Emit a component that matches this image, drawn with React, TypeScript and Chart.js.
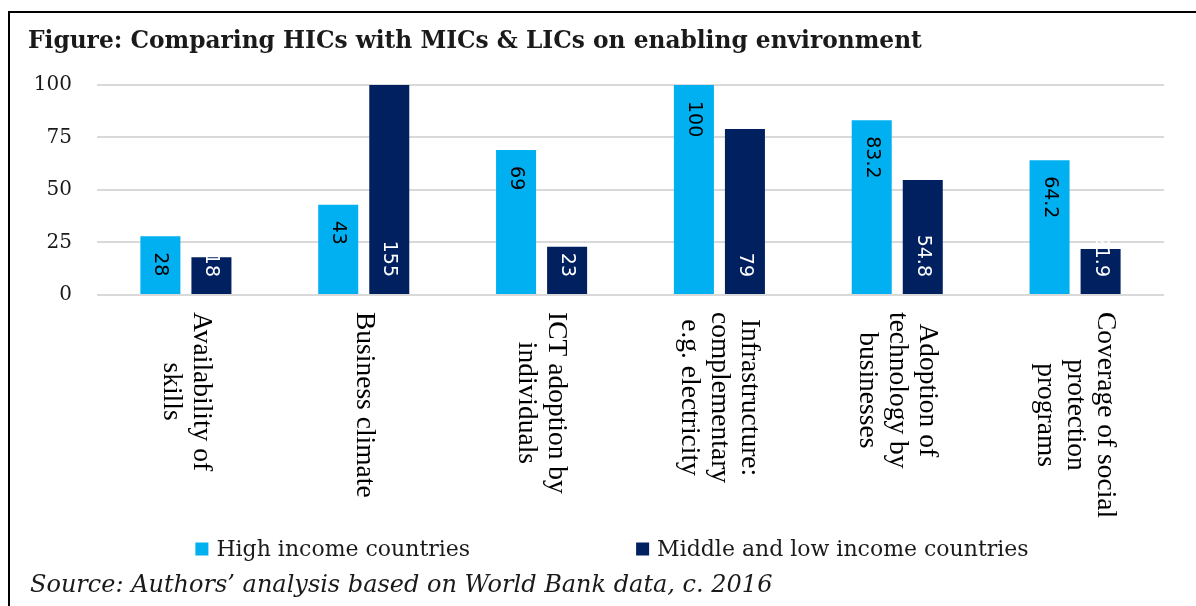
import React, { useEffect, useRef } from 'react';
import { Chart, registerables } from 'chart.js';

Chart.register(...registerables);

const categories: string[][] = [
  ['Availability of', 'skills'],
  ['Business climate'],
  ['ICT adoption by', 'individuals'],
  ['Infrastructure:', 'complementary', 'e.g. electricity'],
  ['Adoption of', 'technology by', 'businesses'],
  ['Coverage of social', 'protection', 'programs'],
];
const highIncome = [28, 43, 69, 100, 83.2, 64.2];
const middleLowIncome = [18, 155, 23, 79, 54.8, 21.9];
const yMin = 0;
const yMax = 100;
const yStep = 25;
const seriesNames = ['High income countries', 'Middle and low income countries'];
const seriesColors = ['#00B0F0', '#002060'];
const labelColors = ['#000000', '#FFFFFF'];
const titleText = 'Figure: Comparing HICs with MICs & LICs on enabling environment';
const sourceText = 'Source: Authors\u2019 analysis based on World Bank data, c. 2016';

const W = 1196;
const H = 606;

const framePlugin = {
  id: 'frame',
  beforeDraw(chart: any) {
    const ctx = chart.ctx as CanvasRenderingContext2D;
    ctx.save();
    ctx.strokeStyle = '#000000';
    ctx.lineWidth = 2;
    ctx.beginPath();
    ctx.moveTo(9, chart.height);
    ctx.lineTo(9, 12);
    ctx.lineTo(chart.width, 12);
    ctx.stroke();
    ctx.restore();
  },
};

const dataLabelPlugin = {
  id: 'rotatedDataLabels',
  afterDatasetsDraw(chart: any) {
    const ctx = chart.ctx as CanvasRenderingContext2D;
    const area = chart.chartArea;
    chart.data.datasets.forEach((ds: any, di: number) => {
      const meta = chart.getDatasetMeta(di);
      meta.data.forEach((bar: any, i: number) => {
        const { x, y, base } = bar.getProps(['x', 'y', 'base'], true);
        const text = String(ds.data[i]);
        ctx.save();
        ctx.font = '19px "DejaVu Sans"';
        ctx.fillStyle = labelColors[di];
        ctx.textBaseline = 'middle';
        if (di === 0) {
          const top = Math.max(y, area.top);
          ctx.translate(x, top + 16);
          ctx.rotate(Math.PI / 2);
          ctx.textAlign = 'left';
        } else {
          ctx.translate(x, base - 17);
          ctx.rotate(Math.PI / 2);
          ctx.textAlign = 'right';
        }
        ctx.fillText(text, 0, 0);
        ctx.restore();
      });
    });
  },
};

const xLabelPlugin = {
  id: 'rotatedCategoryLabels',
  afterDraw(chart: any) {
    const ctx = chart.ctx as CanvasRenderingContext2D;
    const xs = chart.scales.x;
    const area = chart.chartArea;
    const lineH = 30;
    ctx.save();
    ctx.font = '27.5px "Liberation Serif"';
    ctx.fillStyle = '#000000';
    ctx.textBaseline = 'middle';
    ctx.textAlign = 'center';
    categories.forEach((lines, i) => {
      const x = xs.getPixelForValue(i);
      const maxW = Math.max(...lines.map((l) => ctx.measureText(l).width));
      ctx.save();
      ctx.translate(x, area.bottom + 17);
      ctx.rotate(Math.PI / 2);
      lines.forEach((line, k) => {
        ctx.fillText(line, maxW / 2, (k - (lines.length - 1) / 2) * lineH);
      });
      ctx.restore();
    });
    ctx.restore();
  },
};

const legendSourcePlugin = {
  id: 'legendAndSource',
  afterDraw(chart: any) {
    const ctx = chart.ctx as CanvasRenderingContext2D;
    ctx.save();
    ctx.font = '22px "DejaVu Serif"';
    ctx.textBaseline = 'middle';
    ctx.textAlign = 'left';
    const box = 13;
    const gap = 8;
    const spacing = 166;
    const items = chart.data.datasets.map((ds: any) => ({
      text: ds.label as string,
      color: ds.backgroundColor as string,
      w: ctx.measureText(ds.label).width,
    }));
    const total =
      items.reduce((s: number, it: any) => s + box + gap + it.w, 0) + spacing * (items.length - 1);
    let x = 612 - total / 2;
    const y = 549;
    items.forEach((it: any) => {
      ctx.fillStyle = it.color;
      ctx.fillRect(x, y - box / 2, box, box);
      ctx.fillStyle = '#1a1a1a';
      ctx.fillText(it.text, x + box + gap, y + 1);
      x += box + gap + it.w + spacing;
    });
    ctx.font = 'italic 24px "DejaVu Serif"';
    ctx.fillStyle = '#1a1a1a';
    ctx.fillText(sourceText, 30, 586);
    ctx.restore();
  },
};

export default function App() {
  const canvasRef = useRef<HTMLCanvasElement | null>(null);

  useEffect(() => {
    if (!canvasRef.current) return;
    const chart = new Chart(canvasRef.current, {
      type: 'bar',
      data: {
        labels: categories.map((c) => c.join(' ')),
        datasets: [
          {
            label: seriesNames[0],
            data: highIncome,
            backgroundColor: seriesColors[0],
            borderWidth: 0,
            categoryPercentage: 0.574,
            barPercentage: 0.784,
          },
          {
            label: seriesNames[1],
            data: middleLowIncome,
            backgroundColor: seriesColors[1],
            borderWidth: 0,
            categoryPercentage: 0.574,
            barPercentage: 0.784,
          },
        ],
      },
      options: {
        responsive: false,
        animation: false,
        layout: { padding: { left: 28, right: 32, top: 0, bottom: 78 } },
        plugins: {
          legend: { display: false },
          tooltip: { enabled: false },
          title: {
            display: true,
            text: titleText,
            align: 'start',
            color: '#1a1a1a',
            font: { family: '"DejaVu Serif"', size: 23.3, weight: 'bold', lineHeight: 1.2 },
            padding: { top: 28, bottom: 29 },
          },
        },
        scales: {
          x: {
            ticks: { display: false },
            grid: { display: false },
            border: { display: false },
            afterFit: (scale: any) => {
              scale.height = 233;
            },
          },
          y: {
            min: yMin,
            max: yMax,
            ticks: {
              stepSize: yStep,
              padding: 25,
              color: '#1a1a1a',
              font: { family: '"DejaVu Serif"', size: 20 },
            },
            grid: { color: '#D9D9D9', lineWidth: 2, drawTicks: false },
            border: { display: false },
            afterFit: (scale: any) => {
              scale.width = 69;
            },
          },
        },
      } as any,
      plugins: [framePlugin, dataLabelPlugin, xLabelPlugin, legendSourcePlugin],
    });
    return () => chart.destroy();
  }, []);

  return (
    <canvas
      ref={canvasRef}
      width={W}
      height={H}
      style={{ position: 'fixed', left: 0, top: 0, width: W, height: H, display: 'block' }}
    />
  );
}
